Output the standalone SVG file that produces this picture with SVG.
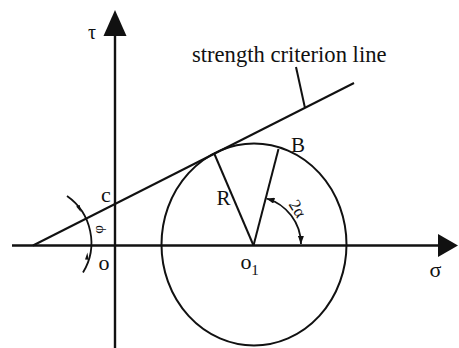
<svg xmlns="http://www.w3.org/2000/svg" width="459" height="348" viewBox="0 0 459 348">
<defs>
<style>
.ln{stroke:#111;stroke-width:2;fill:none}
.ax{stroke:#111;stroke-width:2.4;fill:none}
.ah{fill:#111;stroke:none}
.t{font-family:"Liberation Serif","Times New Roman",serif;fill:#111}
</style>
<marker id="sm" viewBox="0 0 8 6" refX="8" refY="3" markerWidth="8" markerHeight="6" markerUnits="userSpaceOnUse" orient="auto-start-reverse">
<path d="M0,0 L8,3 L0,6 Z" class="ah"/>
</marker>
</defs>
<rect width="459" height="348" fill="#fff"/>
<g id="connectors">
<line class="ax" x1="115" y1="348" x2="115" y2="34"/>
<polygon class="ah" points="115,10 103.5,36 126.5,36"/>
<line class="ax" x1="12" y1="245.5" x2="440" y2="245.5"/>
<polygon class="ah" points="458,245.5 438,234 438,257"/>
<line class="ln" x1="33" y1="245.5" x2="354" y2="83"/>
<line class="ln" x1="296" y1="67" x2="305" y2="108"/>
<line class="ln" x1="253.5" y1="245.5" x2="214" y2="153"/>
<line class="ln" x1="253.5" y1="245.5" x2="278.5" y2="149"/>
<path class="ln" d="M266.5,198.5 A48,48 0 0 1 301,244" marker-start="url(#sm)" marker-end="url(#sm)" style="stroke-width:1.8"/>
<path class="ln" d="M67,196 A57,57 0 0 1 83,272.5" style="stroke-width:1.8"/>
<polygon class="ah" points="80.8,212 76.2,206.6 79.8,205"/>
<polygon class="ah" points="87.4,252.5 85,259.5 88.6,259.7"/>
</g>
<g id="circle"><ellipse class="ln" cx="254" cy="244.5" rx="92.5" ry="101"/></g>
<g id="labels">
<text class="t" x="92" y="39" font-size="20" text-anchor="middle">τ</text>
<text class="t" x="192" y="62" font-size="22.6">strength criterion line</text>
<text class="t" x="106" y="202" font-size="22" text-anchor="middle">c</text>
<text class="t" x="104" y="270" font-size="22" text-anchor="middle">o</text>
<text class="t" x="0" y="0" font-size="15" text-anchor="middle" transform="translate(97.5,229.5) rotate(-90) translate(0,5)">φ</text>
<text class="t" x="223.5" y="205" font-size="21" text-anchor="middle">R</text>
<text class="t" x="298" y="151.5" font-size="21" text-anchor="middle">B</text>
<text class="t" x="246" y="268.5" font-size="22" text-anchor="middle">o</text>
<text class="t" x="255" y="275" font-size="15" text-anchor="middle">1</text>
<text class="t" x="435.5" y="276.5" font-size="22" text-anchor="middle">σ</text>
<text class="t" x="0" y="0" font-size="17" text-anchor="middle" transform="translate(297,209) rotate(58) translate(0,5)">2α</text>
</g>
</svg>
